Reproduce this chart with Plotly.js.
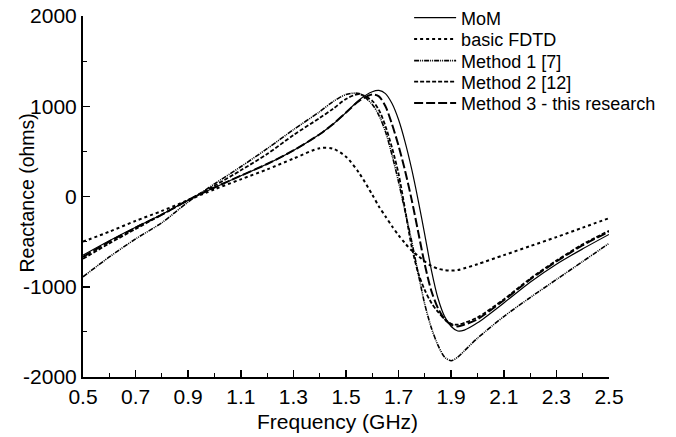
<!DOCTYPE html>
<html>
<head>
<meta charset="utf-8">
<script src="https://cdn.plot.ly/plotly-3.0.1.min.js"></script>
<style>html,body{margin:0;padding:0;background:#fff;}#chart{width:676px;height:437px;}</style>
</head>
<body>
<div id="chart"></div>
<script>
const freq = [0.5,0.6,0.7,0.8,0.9,1.0,1.1,1.2,1.3,1.4,1.45,1.5,1.55,1.6,1.625,1.65,1.675,1.7,1.725,1.75,1.775,1.8,1.825,1.85,1.875,1.9,1.925,1.95,2.0,2.1,2.2,2.3,2.4,2.5];
const mom = [-650,-490,-340,-200,-40,100,230,360,510,690,800,930,1070,1160,1175,1140,1030,850,600,300,-50,-430,-820,-1130,-1330,-1440,-1490,-1480,-1400,-1180,-950,-750,-580,-420];
const basicFdtd = [-500,-390,-270,-160,-40,80,190,300,420,535,530,440,260,20,-110,-220,-330,-430,-520,-600,-660,-720,-770,-800,-815,-820,-815,-795,-750,-650,-550,-450,-345,-240];
const method1 = [-890,-670,-470,-290,-60,140,330,530,740,940,1050,1130,1140,1020,900,720,460,160,-170,-500,-860,-1200,-1460,-1650,-1780,-1820,-1780,-1710,-1570,-1330,-1120,-920,-720,-520];
const method2 = [-690,-520,-360,-200,-40,120,290,470,680,870,970,1080,1135,1060,960,780,540,250,-150,-560,-850,-1040,-1180,-1280,-1360,-1410,-1420,-1400,-1340,-1140,-910,-710,-530,-380];
const method3 = [-670,-500,-345,-200,-40,100,230,360,510,690,800,930,1060,1130,1110,1000,800,560,280,-40,-400,-760,-1050,-1240,-1360,-1420,-1440,-1420,-1360,-1150,-920,-720,-540,-390];
const names = ["MoM","basic FDTD","Method 1 [7]","Method 2 [12]","Method 3 - this research"];
const xTicks = [0.5,0.7,0.9,1.1,1.3,1.5,1.7,1.9,2.1,2.3,2.5];
const yTicks = [-2000,-1000,0,1000,2000];

const series = [mom, basicFdtd, method1, method2, method3];
const styles = [
  {width:1.2, dash:'solid'},
  {width:2, dash:'dot'},
  {width:1.6, dash:'5px,1px,1px,1px,1px,1px'},
  {width:1.8, dash:'4px,2px'},
  {width:2, dash:'9px,3px'}
];
const legendIds = ['legend','legend2','legend3','legend4','legend5'];
const legendY = [1.046, 0.9864, 0.9269, 0.8687, 0.8091];

const traces = series.map((s,i)=>({
  x: freq, y: s, name: names[i], type:'scatter', mode:'lines', legend: legendIds[i],
  line: Object.assign({color:'#000', shape:'spline', smoothing:0.8}, styles[i])
}));

const font = 'Liberation Sans, Arial, sans-serif';
const layout = {
  width:676, height:437,
  margin:{l:83, r:67, t:16, b:60, autoexpand:false},
  paper_bgcolor:'#fff', plot_bgcolor:'#fff',
  font:{family:font, color:'#000', size:20},
  showlegend:true,
  xaxis:{range:[0.5,2.5], tickvals:xTicks, ticktext:xTicks.map(v=>v.toFixed(1)),
         showgrid:false, zeroline:false, showline:true, linecolor:'#000', linewidth:2,
         ticks:'inside', ticklen:7, tickwidth:1.5, tickcolor:'#000',
         minor:{dtick:0.1, tick0:0.5, ticks:'inside', ticklen:4, tickwidth:1, tickcolor:'#000', showgrid:false},
         tickfont:{size:21}, title:{text:''}},
  yaxis:{range:[-2000,2000], tickvals:yTicks, ticktext:yTicks.map(String),
         showgrid:false, zeroline:false, showline:true, linecolor:'#000', linewidth:2,
         ticks:'inside', ticklen:7, tickwidth:1.5, tickcolor:'#000',
         minor:{dtick:500, tick0:0, ticks:'inside', ticklen:4, tickwidth:1, tickcolor:'#000', showgrid:false},
         tickfont:{size:21}, title:{text:''}},
  annotations:[
    {text:'Reactance (ohms)', xref:'paper', yref:'paper', x:0, y:0.5,
     xanchor:'center', yanchor:'middle', xshift:-57, yshift:3, textangle:-90,
     showarrow:false, font:{family:font, size:19.5, color:'#000'}},
    {text:'Frequency (GHz)', xref:'paper', yref:'paper', x:0.5, y:0,
     xanchor:'center', yanchor:'middle', xshift:-9, yshift:-44,
     showarrow:false, font:{family:font, size:21, color:'#000'}}
  ]
};
legendIds.forEach((id,i)=>{
  layout[id] = {x:0.62, xanchor:'left', y:legendY[i], yanchor:'top', bgcolor:'rgba(0,0,0,0)',
                font:{family:font, size:18, color:'#000'}, itemwidth:42};
});
Plotly.newPlot('chart', traces, layout, {staticPlot:true, displayModeBar:false});
</script>
</body>
</html>
